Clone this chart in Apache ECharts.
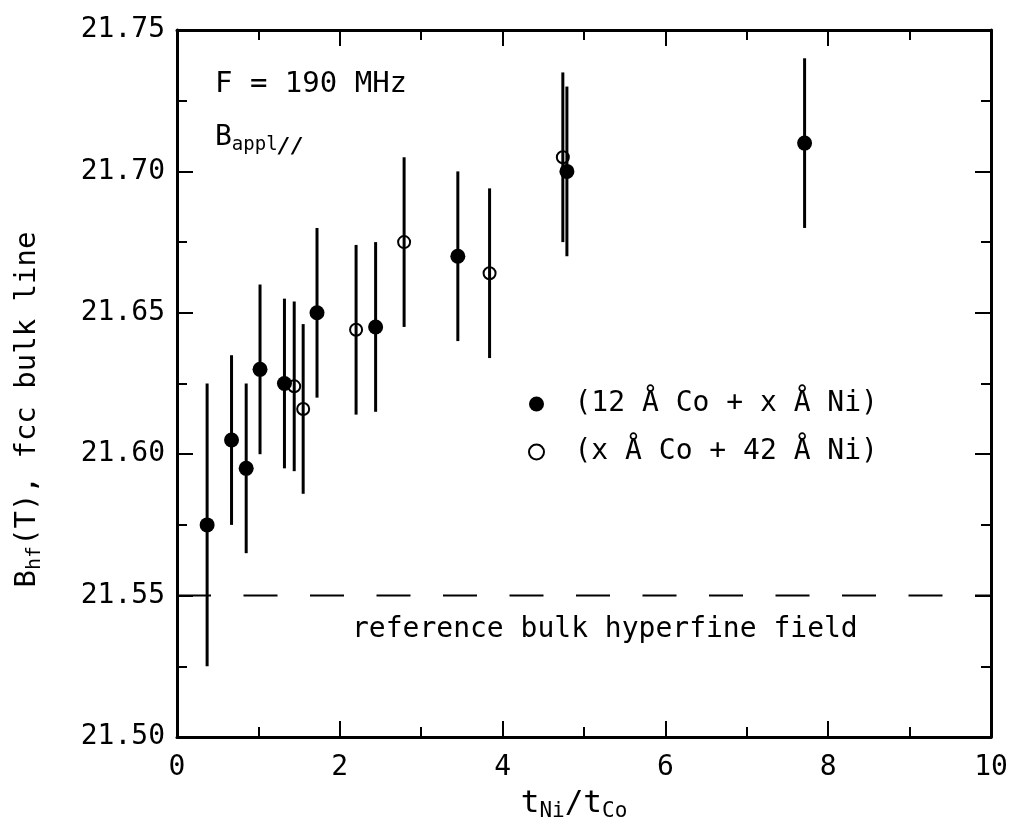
<!DOCTYPE html>
<html>
<head>
<meta charset="utf-8">
<script src="https://cdn.jsdelivr.net/npm/echarts@6/dist/echarts.min.js"></script>
<style>
html,body{margin:0;padding:0;background:#fff;}
#chart{width:1012px;height:827px;}
</style>
</head>
<body>
<div id="chart"></div>
<script>
// ---- data ----
var filledName = '(12 Å Co + x Å Ni)';
var openName = '(x Å Co + 42 Å Ni)';
var filledX = [0.37, 0.67, 0.85, 1.02, 1.32, 1.72, 2.44, 3.45, 4.79, 7.71];
var filledY = [21.575, 21.605, 21.595, 21.630, 21.625, 21.650, 21.645, 21.670, 21.700, 21.710];
var filledErr = [0.05, 0.03, 0.03, 0.03, 0.03, 0.03, 0.03, 0.03, 0.03, 0.03];
var openX = [1.44, 1.55, 2.20, 2.79, 3.84, 4.74];
var openY = [21.624, 21.616, 21.644, 21.675, 21.664, 21.705];
var openErr = [0.03, 0.03, 0.03, 0.03, 0.03, 0.03];
var refX = [0, 10];
var refY = [21.55, 21.55];
var xTicks = [0, 2, 4, 6, 8, 10];
var yTicks = [21.50, 21.55, 21.60, 21.65, 21.70, 21.75];

var MONO = '"DejaVu Sans Mono", monospace';

function pts(xs, ys) { return xs.map(function (x, i) { return [x, ys[i]]; }); }
function bars(xs, ys, es) { return xs.map(function (x, i) { return [x, ys[i] - es[i], ys[i] + es[i]]; }); }

function errRender(params, api) {
  var p1 = api.coord([api.value(0), api.value(1)]);
  var p2 = api.coord([api.value(0), api.value(2)]);
  return {
    type: 'line',
    shape: { x1: p1[0], y1: p1[1], x2: p2[0], y2: p2[1] },
    style: { stroke: '#000', lineWidth: 3 }
  };
}

var tickCommon = { show: true, inside: true, length: 16, lineStyle: { color: '#000', width: 2 } };
var minorCommon = { show: true, splitNumber: 2, length: 10, lineStyle: { color: '#000', width: 2 } };
var lineCommon = { show: true, onZero: false, lineStyle: { color: '#000', width: 3 } };

var chart = echarts.init(document.getElementById('chart'), null, { renderer: 'canvas' });
chart.setOption({
  animation: false,
  backgroundColor: '#fff',
  grid: { left: 177, right: 21, top: 30, bottom: 85, containLabel: false },
  xAxis: [{
    type: 'value', min: xTicks[0], max: xTicks[xTicks.length - 1], interval: 2,
    position: 'bottom',
    axisLine: lineCommon, axisTick: tickCommon, minorTick: minorCommon,
    splitLine: { show: false },
    axisLabel: { color: '#000', fontFamily: MONO, fontSize: 28, margin: 17 },
    name: '{m|t}{s|Ni}{m|/t}{s|Co}',
    nameLocation: 'middle', nameGap: 48,
    nameTextStyle: {
      padding: [0, 20, 0, 0],
      rich: {
        m: { fontFamily: MONO, fontSize: 31, color: '#000' },
        s: { fontFamily: MONO, fontSize: 21, color: '#000', padding: [16, 0, 0, 0] }
      }
    }
  }, {
    type: 'value', min: xTicks[0], max: xTicks[xTicks.length - 1], interval: 2,
    position: 'top',
    axisLine: lineCommon, axisTick: tickCommon, minorTick: minorCommon,
    splitLine: { show: false }, axisLabel: { show: false }
  }],
  yAxis: [{
    type: 'value', min: yTicks[0], max: yTicks[yTicks.length - 1], interval: 0.05,
    position: 'left',
    axisLine: lineCommon, axisTick: tickCommon, minorTick: minorCommon,
    splitLine: { show: false },
    axisLabel: {
      color: '#000', fontFamily: MONO, fontSize: 28, margin: 12,
      formatter: function (v) { return v.toFixed(2); }
    },
    name: '{b|B}{s|hf}{b|(T), fcc bulk line}',
    nameLocation: 'middle', nameRotate: 90, nameGap: 132,
    nameTextStyle: {
      padding: [0, 52, 0, 0],
      rich: {
        b: { fontFamily: MONO, fontSize: 29, color: '#000' },
        s: { fontFamily: MONO, fontSize: 20, color: '#000', padding: [15, 0, 0, 0] }
      }
    }
  }, {
    type: 'value', min: yTicks[0], max: yTicks[yTicks.length - 1], interval: 0.05,
    position: 'right',
    axisLine: lineCommon, axisTick: tickCommon, minorTick: minorCommon,
    splitLine: { show: false }, axisLabel: { show: false }
  }],
  legend: {
    orient: 'vertical',
    left: 523, top: 384,
    itemWidth: 66, itemHeight: 15, itemGap: 18,
    data: [filledName, openName],
    textStyle: { fontFamily: MONO, fontSize: 28, color: '#000', lineHeight: 30 },
    selectedMode: false
  },
  graphic: [
    {
      type: 'text', left: 215, top: 70,
      style: { text: 'F = 190 MHz', font: '29px ' + MONO, fill: '#000' }
    },
    {
      type: 'text', left: 215, top: 124,
      style: {
        text: '{b|B}{s|appl}{d|//}',
        fill: '#000',
        rich: {
          b: { fontFamily: MONO, fontSize: 28, fill: '#000' },
          s: { fontFamily: MONO, fontSize: 19, fill: '#000', padding: [14, 0, 0, 0] },
          d: { fontFamily: MONO, fontSize: 22, fontStyle: 'italic', fontWeight: 'bold', fill: '#000', padding: [18, 0, 0, 0] }
        }
      }
    },
    {
      type: 'text', left: 352, top: 616,
      style: { text: 'reference bulk hyperfine field', font: '28px ' + MONO, fill: '#000' }
    }
  ],
  series: [
    {
      name: 'refline', type: 'line', data: pts(refX, refY), symbol: 'none',
      lineStyle: { color: '#000', width: 2, type: [34, 32.5] }, silent: true, z: 1
    },
    {
      name: 'filledErr', type: 'custom', data: bars(filledX, filledY, filledErr),
      renderItem: errRender, encode: { x: 0, y: [1, 2] }, silent: true, z: 2
    },
    {
      name: 'openErr', type: 'custom', data: bars(openX, openY, openErr),
      renderItem: errRender, encode: { x: 0, y: [1, 2] }, silent: true, z: 2
    },
    {
      name: filledName, type: 'scatter', data: pts(filledX, filledY),
      symbol: 'circle', symbolSize: 15,
      itemStyle: { color: '#000', opacity: 1 }, z: 3
    },
    {
      name: openName, type: 'scatter', data: pts(openX, openY),
      symbol: 'circle', symbolSize: 12,
      itemStyle: { color: 'rgba(0,0,0,0)', borderColor: '#000', borderWidth: 2, opacity: 1 }, z: 3
    }
  ]
});
</script>
</body>
</html>
